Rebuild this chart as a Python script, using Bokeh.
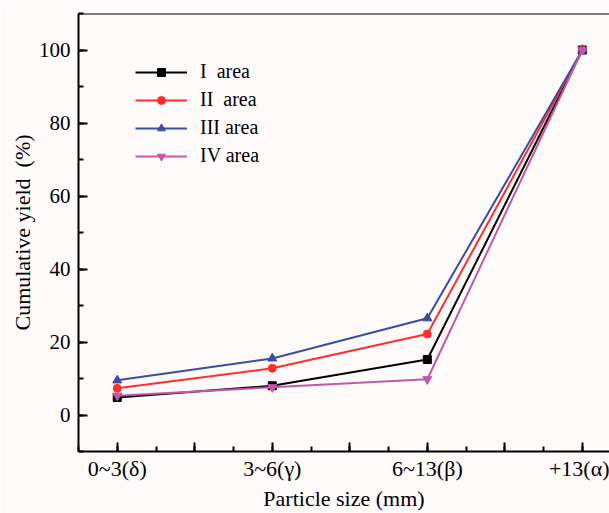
from bokeh.plotting import figure
from bokeh.models import (FixedTicker, SingleIntervalTicker, Range1d, Span,
                          Legend, LegendItem)
from bokeh.embed import file_html
from bokeh.resources import INLINE

categories = ["0~3(\u03b4)", "3~6(\u03b3)", "6~13(\u03b2)", "+13(\u03b1)"]
area_I = [4.8, 8.0, 15.2, 100.0]
area_II = [7.3, 12.8, 22.2, 100.0]
area_III = [9.5, 15.5, 26.5, 100.0]
area_IV = [5.3, 7.6, 9.8, 100.0]
series_names = ["I\u00a0\u00a0area", "II\u00a0\u00a0area", "III area", "IV area"]

FONT = "Liberation Serif"
BG = "#fefafa"

xs = list(range(len(categories)))

p = figure(width=609, height=513, output_backend="svg", toolbar_location=None,
           x_range=Range1d(-0.25, 3.175), y_range=Range1d(-10, 110),
           min_border_left=78, min_border_right=0, min_border_top=13,
           min_border_bottom=62)
p.background_fill_color = BG
p.border_fill_color = BG
p.outline_line_color = None
p.grid.visible = False

# top border
p.add_layout(Span(location=110, dimension="width", line_color="black", line_width=2))

# x axis
n = len(categories)
major = [i * 0.5 for i in range(2 * n)]
minor = [i * 0.25 - 0.25 for i in range(4 * n + 2)]
p.xaxis.ticker = FixedTicker(ticks=major, minor_ticks=minor)
overrides = {}
for t in major:
    if abs(t - round(t)) < 1e-9:
        overrides[t] = categories[int(round(t))]
        overrides[int(round(t))] = categories[int(round(t))]
    else:
        overrides[t] = ""
p.xaxis.major_label_overrides = overrides
p.xaxis.axis_label = "Particle size (mm)"

# y axis
p.yaxis.ticker = SingleIntervalTicker(interval=20, num_minor_ticks=2)
p.yaxis.axis_label = "Cumulative yield\u00a0\u00a0(%)"

for ax in (p.xaxis[0], p.yaxis[0]):
    ax.axis_line_width = 2
    ax.axis_line_color = "black"
    ax.major_tick_in = 9
    ax.major_tick_out = 0
    ax.minor_tick_in = 5
    ax.minor_tick_out = 0
    ax.major_tick_line_width = 2
    ax.minor_tick_line_width = 2
    ax.major_tick_line_color = "black"
    ax.minor_tick_line_color = "black"
    ax.major_label_text_font = FONT
    ax.major_label_text_color = "black"
    ax.axis_label_text_font = FONT
    ax.axis_label_text_font_style = "normal"
    ax.axis_label_text_color = "black"
    ax.major_label_standoff = 8

p.xaxis.major_label_text_font_size = "22px"
p.yaxis.major_label_text_font_size = "21px"
p.xaxis.axis_label_text_font_size = "22px"
p.yaxis.axis_label_text_font_size = "22px"
p.xaxis.major_label_standoff = 4
p.xaxis.axis_label_standoff = 2
p.yaxis.axis_label_standoff = 1

specs = [
    (area_I, "black", "square", 8),
    (area_II, "#ff2d2d", "circle", 8),
    (area_III, "#3a4d9e", "triangle", 9),
    (area_IV, "#c05aa5", "inverted_triangle", 9),
]
items = []
for name, (vals, col, mk, sz) in zip(series_names, specs):
    l = p.line(xs, vals, line_color=col, line_width=2)
    m = p.scatter(xs, vals, marker=mk, size=sz, fill_color=col, line_color=col)
    items.append(LegendItem(label=name, renderers=[l, m]))

legend = Legend(items=items, location=(57, 284))
legend.background_fill_alpha = 0
legend.border_line_color = None
legend.padding = 0
legend.margin = 0
legend.spacing = 5
legend.label_height = 20
legend.glyph_height = 20
legend.glyph_width = 52
legend.label_standoff = 13
legend.label_text_font = FONT
legend.label_text_font_size = "20px"
legend.label_text_color = "black"
p.add_layout(legend, "center")

open("out.html", "w").write(file_html(p, INLINE))
